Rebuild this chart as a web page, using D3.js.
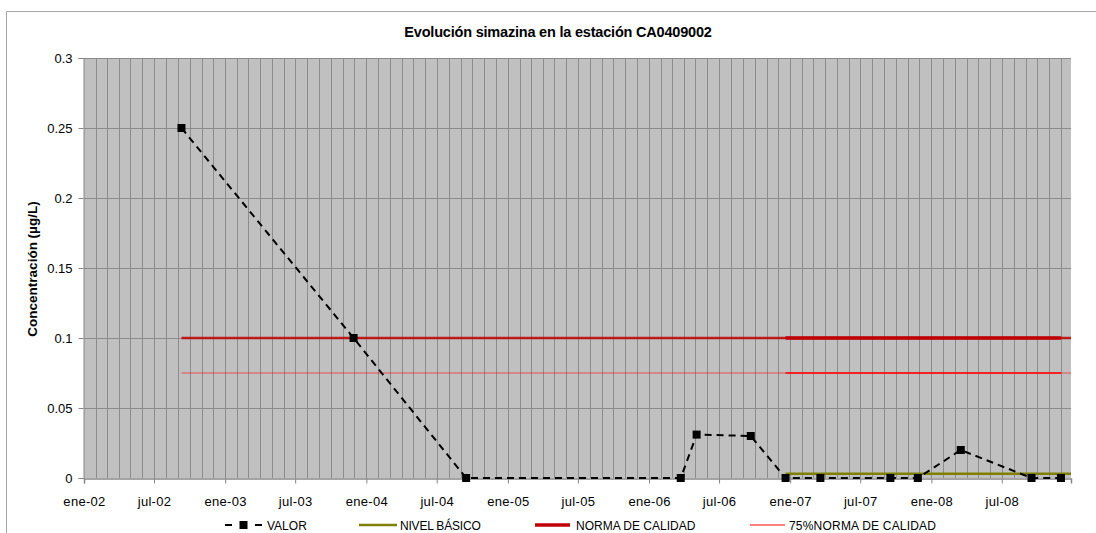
<!DOCTYPE html>
<html>
<head>
<meta charset="utf-8">
<script src="https://cdn.jsdelivr.net/npm/d3@7"></script>
<style>
  html, body { margin: 0; padding: 0; background: #fff; }
  svg { display: block; }
  text { font-family: "Liberation Sans", Arial, sans-serif; fill: #000; }
</style>
</head>
<body>
<svg id="chart" width="1096" height="533"></svg>
<script>
// ---------- DATA ----------
const title = "Evolución simazina en la estación CA0409002";
const yLabel = "Concentración (µg/L)";
const valorDates = ["2002-09-10","2003-11-29","2004-09-15","2006-03-24","2006-05-04","2006-09-21","2006-12-20","2007-03-20","2007-09-17","2007-11-27","2008-03-17","2008-09-16","2008-12-01"];
const valorValues = [0.25, 0.1, 0, 0, 0.031, 0.03, 0, 0, 0, 0, 0.02, 0, 0];
const nivelBasicoDates = ["2006-12-20","2008-12-27"];
const nivelBasicoValues = [0.003, 0.003];
const normaDates = ["2002-09-10","2008-12-27"];
const normaValues = [0.1, 0.1];
const normaDates2 = ["2006-12-20","2008-12-01"];
const normaValues2 = [0.1, 0.1];
const norma75Dates = ["2002-09-10","2008-12-27"];
const norma75Values = [0.075, 0.075];
const norma75Dates2 = ["2006-12-20","2008-12-01"];
const norma75Values2 = [0.075, 0.075];
const yTicks = [0, 0.05, 0.1, 0.15, 0.2, 0.25, 0.3];
const monthNames = ["ene","feb","mar","abr","may","jun","jul","ago","sep","oct","nov","dic"];
const legendLabels = ["VALOR", "NIVEL BÁSICO", "NORMA DE CALIDAD", "75%NORMA DE CALIDAD"];

// ---------- SETUP ----------
const parse = d3.timeParse("%Y-%m-%d");
const svg = d3.select("#chart");
const W = 1096, H = 533;
const plot = { left: 84, right: 1071, top: 58, bottom: 478 };

const x = d3.scaleTime()
  .domain([parse("2002-01-01"), parse("2008-12-27")])
  .range([plot.left, plot.right]);
const y = d3.scaleLinear().domain([0, 0.3]).range([plot.bottom, plot.top]);

const zip = (ds, vs) => ds.map((d, i) => ({ date: parse(d), value: vs[i] }));

// chart area border (only top & left visible)
svg.append("path")
  .attr("d", `M6.5,${H} L6.5,11.5 L${W},11.5`)
  .attr("fill", "none").attr("stroke", "#a6a6a6").attr("stroke-width", 1);

// plot background
svg.append("rect")
  .attr("x", plot.left).attr("y", plot.top)
  .attr("width", plot.right - plot.left).attr("height", plot.bottom - plot.top)
  .attr("fill", "#c0c0c0");

// vertical monthly gridlines
const months = d3.timeMonth.range(parse("2002-02-01"), parse("2008-12-27"));
svg.append("g").selectAll("line").data(months).join("line")
  .attr("x1", d => Math.round(x(d)) + 0.5).attr("x2", d => Math.round(x(d)) + 0.5)
  .attr("y1", plot.top).attr("y2", plot.bottom)
  .attr("stroke", "#8c8c8c").attr("stroke-width", 1);

// horizontal gridlines
svg.append("g").selectAll("line").data(yTicks.filter(v => v > 0)).join("line")
  .attr("x1", plot.left).attr("x2", plot.right)
  .attr("y1", d => Math.round(y(d)) + 0.5).attr("y2", d => Math.round(y(d)) + 0.5)
  .attr("stroke", "#8c8c8c").attr("stroke-width", 1);

// y axis
const yAxis = d3.axisLeft(y).tickValues(yTicks).tickSize(5).tickPadding(6)
  .tickFormat(d => d === 0 ? "0" : d3.format("")(+d.toFixed(2)));
const gy = svg.append("g").attr("transform", `translate(${plot.left - 0.5},0)`).call(yAxis);
gy.select(".domain").attr("stroke", "#868686");
gy.selectAll(".tick line").attr("stroke", "#868686");
gy.selectAll(".tick text").attr("font-size", 13).attr("font-family", "Liberation Sans, Arial, sans-serif").attr("fill", "#000");

// x axis
const xTicks = d3.timeMonth.every(6).range(parse("2002-01-01"), parse("2008-12-27"));
const xAxis = d3.axisBottom(x).tickValues(xTicks).tickSize(5).tickPadding(13)
  .tickFormat(d => monthNames[d.getMonth()] + "-" + d3.timeFormat("%y")(d));
const gx = svg.append("g").attr("transform", `translate(0,${plot.bottom + 0.5})`).call(xAxis);
gx.select(".domain").attr("stroke", "#868686").attr("stroke-width", 1.5);
gx.selectAll(".tick line").attr("stroke", "#868686");
gx.selectAll(".tick text").attr("font-size", 13).attr("letter-spacing", 0.3)
  .attr("font-family", "Liberation Sans, Arial, sans-serif").attr("fill", "#000");

// title
svg.append("text").attr("x", 558).attr("y", 37).attr("text-anchor", "middle")
  .attr("font-size", 14.5).attr("font-weight", "bold").attr("letter-spacing", -0.2).text(title);

// y label
svg.append("text").attr("transform", `translate(37,269) rotate(-90)`)
  .attr("text-anchor", "middle").attr("font-size", 13.5).attr("font-weight", "bold")
  .text(yLabel);

// ---------- SERIES ----------
const line = d3.line().x(d => x(d.date)).y(d => y(d.value));

function drawLine(data, color, width, opacity) {
  svg.append("path").datum(data).attr("d", line)
    .attr("fill", "none").attr("stroke", color).attr("stroke-width", width)
    .attr("stroke-opacity", opacity);
}

// 75% norma
drawLine(zip(norma75Dates, norma75Values), "#ff0000", 1, 0.6);
drawLine(zip(norma75Dates2, norma75Values2), "#ff0000", 1.5, 1);
// norma
drawLine(zip(normaDates, normaValues), "#c00000", 2.5, 0.85);
drawLine(zip(normaDates2, normaValues2), "#c00000", 3.5, 1);
// nivel basico
drawLine(zip(nivelBasicoDates, nivelBasicoValues), "#808000", 2.5, 1);

// valor
const valor = zip(valorDates, valorValues);
svg.append("path").datum(valor).attr("d", line)
  .attr("fill", "none").attr("stroke", "#000").attr("stroke-width", 2)
  .attr("stroke-dasharray", "7,5");
svg.append("g").selectAll("rect").data(valor).join("rect")
  .attr("x", d => x(d.date) - 4).attr("y", d => y(d.value) - 4)
  .attr("width", 8).attr("height", 8).attr("fill", "#000");

// ---------- LEGEND ----------
const ly = 525;
const lg = svg.append("g");
// VALOR
lg.append("line").attr("x1", 225).attr("x2", 232).attr("y1", ly).attr("y2", ly).attr("stroke", "#000").attr("stroke-width", 2);
lg.append("rect").attr("x", 239.5).attr("y", ly - 4).attr("width", 8).attr("height", 8).attr("fill", "#000");
lg.append("line").attr("x1", 255).attr("x2", 262).attr("y1", ly).attr("y2", ly).attr("stroke", "#000").attr("stroke-width", 2);
lg.append("text").attr("x", 267).attr("y", ly + 4.5).attr("font-size", 12).attr("letter-spacing", 0).text(legendLabels[0]);
// NIVEL BASICO
lg.append("line").attr("x1", 359).attr("x2", 397).attr("y1", ly).attr("y2", ly).attr("stroke", "#808000").attr("stroke-width", 2.5);
lg.append("text").attr("x", 400).attr("y", ly + 4.5).attr("font-size", 12).attr("letter-spacing", -0.2).text(legendLabels[1]);
// NORMA
lg.append("line").attr("x1", 535).attr("x2", 570).attr("y1", ly).attr("y2", ly).attr("stroke", "#c00000").attr("stroke-width", 3.5);
lg.append("text").attr("x", 576).attr("y", ly + 4.5).attr("font-size", 12).attr("letter-spacing", 0).text(legendLabels[2]);
// 75% NORMA
lg.append("line").attr("x1", 750).attr("x2", 785).attr("y1", ly).attr("y2", ly).attr("stroke", "#ff0000").attr("stroke-width", 1.2);
lg.append("text").attr("x", 789).attr("y", ly + 4.5).attr("font-size", 12).attr("letter-spacing", 0.2).text(legendLabels[3]);
</script>
</body>
</html>
